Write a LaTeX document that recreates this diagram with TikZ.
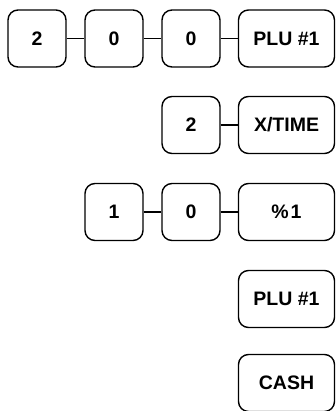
\documentclass[tikz,border=0pt]{standalone}
\usepackage{fontspec}
\setmainfont{Liberation Sans}
\begin{document}
\begin{tikzpicture}[x=1pt,y=-1pt,
  key/.style={draw,line width=1.4pt,rounded corners=10pt,minimum height=57pt,inner sep=0pt,font=\fontsize{19.5}{21}\selectfont\bfseries},
  small/.style={key,minimum width=58pt},
  big/.style={key,minimum width=96pt},
  link/.style={line width=1.4pt}]
\useasboundingbox (0,0) rectangle (336,411);
\node[small] (a1) at (37,38.5) {2};
\node[small] (a2) at (114,38.5) {0};
\node[small] (a3) at (191,38.5) {0};
\node[big] (a4) at (286.5,38.5) {PLU \#1};
\draw[link] (a1) -- (a2);
\draw[link] (a2) -- (a3);
\draw[link] (a3) -- (a4);
\node[small] (b1) at (191,125) {2};
\node[big] (b2) at (286.5,125) {X/TIME};
\draw[link] (b1) -- (b2);
\node[small] (c1) at (114,212) {1};
\node[small] (c2) at (191,212) {0};
\node[big] (c3) at (286.5,212) {\%\kern2pt 1};
\draw[link] (c1) -- (c2);
\draw[link] (c2) -- (c3);
\node[big] (d1) at (286.5,299) {PLU \#1};
\node[big] (e1) at (286.5,383) {CASH};
\end{tikzpicture}
\end{document}
